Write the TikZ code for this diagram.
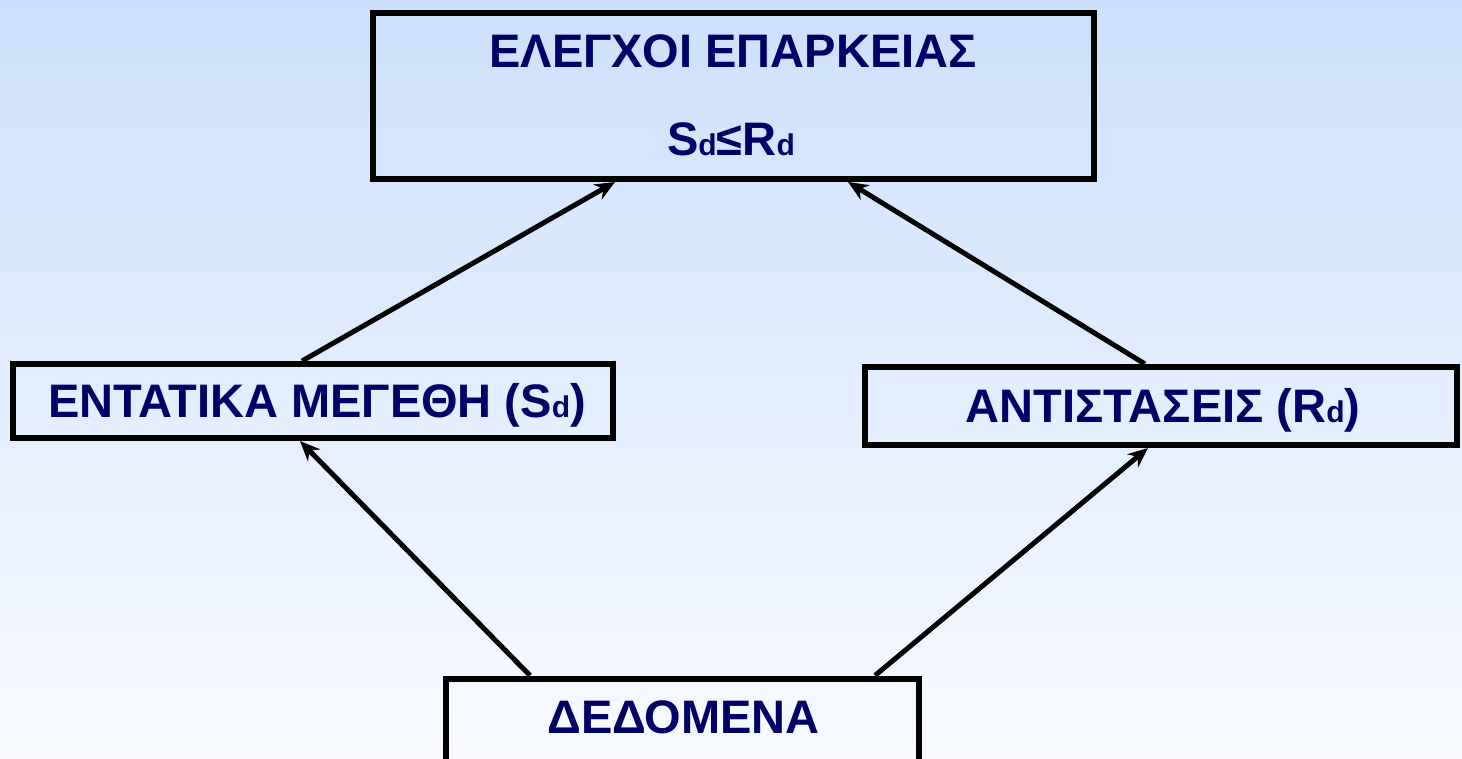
\documentclass[tikz,border=0pt]{standalone}
\usepackage{fontspec}
\setmainfont{Liberation Sans}
\usetikzlibrary{arrows.meta,calc}
\definecolor{navy}{RGB}{0,0,102}
\definecolor{bgtop}{RGB}{204,224,252}
\definecolor{bgbot}{RGB}{248,250,255}
\newcommand\smd[1]{{\fontsize{30}{30}\selectfont #1}}
\begin{document}
\begin{tikzpicture}[x=1pt,y=-1pt,
  box/.style={draw=black,line width=6pt,rectangle,inner sep=0pt},
  lbl/.style={text=navy,font=\fontsize{47}{56}\selectfont\bfseries,anchor=base,inner sep=0pt},
  conn/.style={line width=5pt,-{Stealth[length=20pt,width=17pt]}}]
\useasboundingbox (0,0) rectangle (1462,758);
\shade[top color=bgtop,bottom color=bgbot] (0,0) rectangle (1462,758);
\begin{scope}
\clip (0,0) rectangle (1462,758);
\node[box,minimum width=721pt,minimum height=166pt] (top) at (733.5,96) {};
\node[box,minimum width=600pt,minimum height=74pt] (left) at (313,401) {};
\node[box,minimum width=592pt,minimum height=78pt] (right) at (1161,406) {};
\node[box,minimum width=473pt,minimum height=121pt] (bot) at (682.5,739) {};
\end{scope}
\node[lbl] (t1) at (733,67) {ΕΛΕΓΧΟΙ ΕΠΑΡΚΕΙΑΣ};
\node[lbl] (t2) at (731,155) {S\smd{d}≤R\smd{d}};
\node[lbl] (tl) at (317,417) {ΕΝΤΑΤΙΚΑ ΜΕΓΕΘΗ (S\smd{d})};
\node[lbl] (tr) at (1163,422) {ΑΝΤΙΣΤΑΣΕΙΣ (R\smd{d})};
\node[lbl] (tb) at (683.5,733) {ΔΕΔΟΜΕΝΑ};
\draw[conn] ([xshift=-152.5pt]bot.north) -- ([xshift=-13pt]left.south);
\draw[conn] ([xshift=-11pt]left.north) -- ([xshift=-118.5pt]top.south);
\draw[conn] ([xshift=-16pt]right.north) -- ([xshift=114.5pt]top.south);
\draw[conn] ([xshift=192.5pt]bot.north) -- ([xshift=-13pt]right.south);
\end{tikzpicture}
\end{document}
